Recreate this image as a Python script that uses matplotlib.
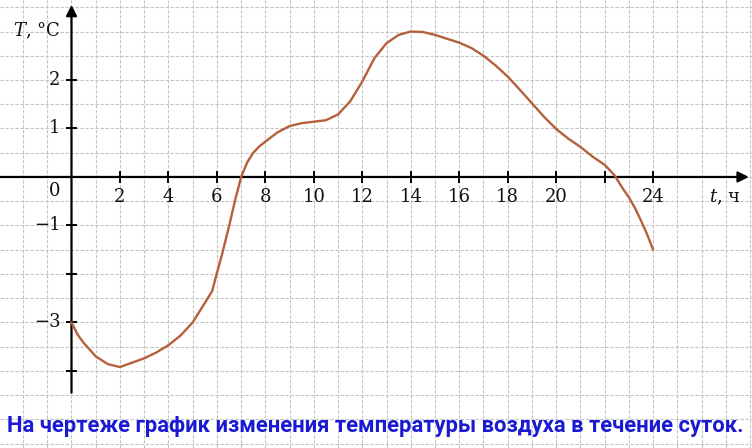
import numpy as np
import matplotlib
matplotlib.use("Agg")
import matplotlib.pyplot as plt

plt.rcParams['mathtext.fontset'] = 'dejavuserif'

# temperature over a day
hours = [0, 0.25, 0.5, 1, 1.5, 2, 2.5, 3, 3.5, 4, 4.5, 5, 5.5, 5.8, 6, 6.2,
         6.5, 6.75, 7, 7.25, 7.5, 7.75, 8, 8.5, 9, 9.5, 10, 10.5, 11, 11.5,
         12, 12.5, 13, 13.5, 14, 14.5, 15, 15.5, 16, 16.5, 17, 17.5, 18,
         18.5, 19, 19.5, 20, 20.5, 21, 21.5, 22, 22.4, 22.75, 23, 23.25,
         23.5, 23.75, 24]
temps = [-3.0, -3.25, -3.42, -3.7, -3.86, -3.92, -3.83, -3.74, -3.62, -3.47,
         -3.27, -3.0, -2.6, -2.36, -1.98, -1.62, -1.02, -0.48, 0.0, 0.3,
         0.5, 0.63, 0.73, 0.92, 1.05, 1.11, 1.14, 1.17, 1.29, 1.56, 1.97,
         2.45, 2.76, 2.93, 3.0, 2.99, 2.93, 2.85, 2.77, 2.66, 2.5, 2.3, 2.07,
         1.8, 1.52, 1.24, 0.99, 0.79, 0.62, 0.42, 0.25, 0.04, -0.24, -0.42,
         -0.64, -0.9, -1.18, -1.5]

xticks = [2, 4, 6, 8, 10, 12, 14, 16, 18, 20, 22, 24]
xlabels = ['2', '4', '6', '8', '10', '12', '14', '16', '18', '20', '', '24']
yticks = [2, 1, -1, -2, -3, -4]
ylabels = ['2', '1', '\u22121', '', '\u22123', '']

caption = "На чертеже график изменения температуры воздуха в течение суток."

fig = plt.figure(figsize=(7.52, 4.48), dpi=100)
ax = fig.add_axes([0, 0, 1, 1])
ax.set_xlim(-2.95, 28.08)
ax.set_ylim(-5.59, 3.65)
ax.axis('off')

# squared paper
grid_kw = dict(color='#c4c4c4', lw=0.8, ls=(0, (3, 1.5)), zorder=0)
for gx in np.arange(-2, 29, 1):
    ax.axvline(gx, **grid_kw)
for gy in np.arange(-5.5, 4, 0.5):
    ax.axhline(gy, **grid_kw)

# axes with arrows
arrow = dict(arrowstyle='-|>', lw=1.6, color='black', mutation_scale=16,
             shrinkA=0, shrinkB=0)
ax.annotate('', xy=(27.95, 0), xytext=(-2.95, 0), arrowprops=arrow, zorder=3)
ax.annotate('', xy=(0, 3.55), xytext=(0, -4.45), arrowprops=arrow, zorder=3)

serif = dict(family='DejaVu Serif', fontsize=13, color='#111111')
for xv, lab in zip(xticks, xlabels):
    ax.plot([xv, xv], [-0.1, 0.1], color='black', lw=1.4, zorder=3)
    if lab:
        ax.text(xv, -0.42, lab, ha='center', va='center', **serif)
for yv, lab in zip(yticks, ylabels):
    ax.plot([-0.2, 0.2], [yv, yv], color='black', lw=1.4, zorder=3)
    if lab:
        ax.text(-0.45, yv, lab, ha='right', va='center', **serif)
ax.text(-0.45, -0.28, '0', ha='right', va='center', **serif)

ax.text(-1.45, 3.02, r'$T$, °C', ha='center', va='center', **serif)
ax.text(26.95, -0.42, r'$t$, ч', ha='center', va='center', **serif)

ax.plot(hours, temps, color='#b5603c', lw=1.7, zorder=4,
        solid_capstyle='round', solid_joinstyle='round')

ax.text(12.55, -5.13, caption, ha='center', va='center', color='#1a1ad2',
        fontsize=15.8, fontweight='bold', family='Roboto', zorder=5)

fig.savefig('out.png', dpi=100, facecolor='white')
